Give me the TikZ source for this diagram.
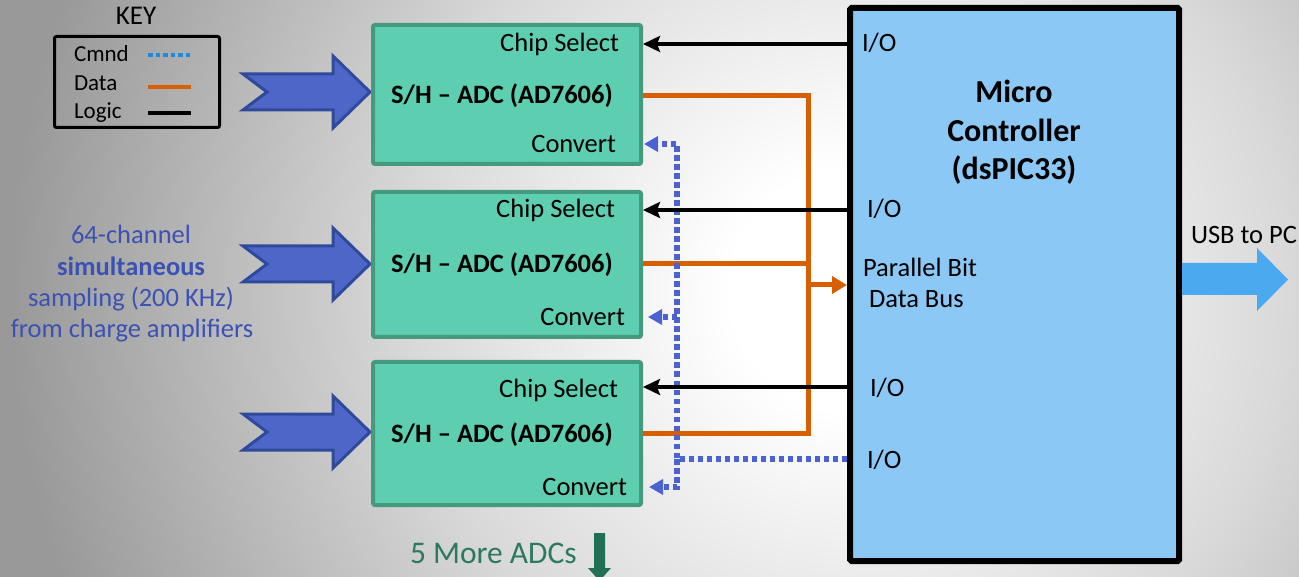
\documentclass[tikz,border=0pt]{standalone}
\usepackage{fontspec}
\setmainfont{Carlito}
\usetikzlibrary{arrows.meta}
\definecolor{adcfill}{HTML}{5DCFB0}
\definecolor{adcborder}{HTML}{459A7E}
\definecolor{mcufill}{HTML}{8BC8F5}
\definecolor{fatfill}{HTML}{4F66C9}
\definecolor{fatborder}{HTML}{2F4A9B}
\definecolor{dataor}{HTML}{D75F00}
\definecolor{cmndblue}{HTML}{4A63D0}
\definecolor{keyblue}{HTML}{1E88E5}
\definecolor{lefttext}{HTML}{3B52B4}
\definecolor{moregreen}{HTML}{2B7A5E}
\definecolor{arrgreen}{HTML}{1F7054}
\definecolor{usbblue}{HTML}{4BA9EF}
\definecolor{bgA}{gray}{0.85}
\definecolor{bgB}{gray}{0.6}
\pgfdeclareradialshading{bgshade}{\pgfpoint{0bp}{0bp}}{color(0bp)=(white); color(3bp)=(white); color(11bp)=(bgA); color(21bp)=(bgB); color(50bp)=(bgB)}
\begin{document}
\begin{tikzpicture}[x=1pt,y=-1pt,
  txt/.style={inner sep=0pt,outer sep=0pt},
  f26/.style={font=\fontsize{26.5}{31}\selectfont},
  f23/.style={font=\fontsize{23}{27}\selectfont},
  f27/.style={font=\fontsize{27}{32}\selectfont},
  f31/.style={font=\fontsize{31.5}{37}\selectfont},
  fb26/.style={font=\fontsize{26.5}{31}\selectfont\bfseries},
  fb32/.style={font=\fontsize{32}{38}\selectfont\bfseries},
  adc/.style={draw=adcborder,fill=adcfill,line width=4pt,rounded corners=2pt,minimum width=268pt,inner sep=0pt},
  mcu/.style={draw=black,fill=mcufill,line width=6pt,rounded corners=1.5pt,minimum width=329pt,minimum height=553pt,inner sep=0pt},
  keybox/.style={draw=black,line width=3pt,rounded corners=2pt,minimum width=165pt,minimum height=91pt,inner sep=0pt},
  logic/.style={draw=black,line width=4.5pt,-{Stealth[length=17pt,width=16pt,inset=3pt]}},
  data/.style={draw=dataor,line width=5pt,line join=miter},
  datatip/.style={-{Triangle[length=15pt,width=17pt]}},
  cmnd/.style={draw=cmndblue,line width=5.5pt,dash pattern=on 5.5pt off 3.5pt},
  cmndtip/.style={-{Triangle[length=14pt,width=15pt]}},
  fatarrow/.pic={\filldraw[fill=fatfill,draw=fatborder,line width=3pt,line join=miter]
     (0,-18) -- (90,-18) -- (90,-36) -- (127,0) -- (90,36) -- (90,18) -- (0,18) -- (24,0) -- cycle;}
]
% background
\begin{scope}
\clip (0,0) rectangle (1299,577);
\shade[shading=bgshade] (850,290) circle[radius=1000pt];
\end{scope}
\useasboundingbox (0,0) rectangle (1299,577);

% key
\node[txt,f27,anchor=base] (keytitle) at (136,25) {KEY};
\node[keybox] (key) at (137,82) {};
\node[txt,f23,anchor=base west] (kc) at (74,62) {Cmnd};
\node[txt,f23,anchor=base west] (kd) at (74,91) {Data};
\node[txt,f23,anchor=base west] (kl) at (74,119) {Logic};
\coordinate (kc1) at (148,55); \coordinate (kc2) at (191,55);
\coordinate (kd1) at (148,87); \coordinate (kd2) at (191,87);
\coordinate (kl1) at (148,113); \coordinate (kl2) at (191,113);
\draw[keyblue,line width=4pt,dash pattern=on 4.5pt off 3pt] (kc1) -- (kc2);
\draw[dataor,line width=4pt] (kd1) -- (kd2);
\draw[black,line width=4pt] (kl1) -- (kl2);

% left text
\node[txt,f26,lefttext,anchor=base] (l1) at (131,244) {64-channel};
\node[txt,fb26,lefttext,anchor=base] (l2) at (131,276) {simultaneous};
\node[txt,f26,lefttext,anchor=base] (l3) at (131,307) {sampling (200 KHz)};
\node[txt,f26,lefttext,anchor=base] (l4) at (132,338) {from charge amplifiers};

% fat input arrows
\pic at (243,92) {fatarrow};
\pic at (243,264) {fatarrow};
\pic at (243,432) {fatarrow};

% ADC boxes
\node[adc,minimum height=139pt] (B1) at (507,94.5) {};
\node[adc,minimum height=145pt] (B2) at (507,264.5) {};
\node[adc,minimum height=143pt] (B3) at (507,433.5) {};

\node[txt,f26,anchor=base east] (cs1) at (619,52) {Chip Select};
\node[txt,fb26,anchor=base] (sh1) at (502,104) {S/H \textendash{} ADC (AD7606)};
\node[txt,f26,anchor=base east] (cv1) at (616,153) {Convert};
\node[txt,f26,anchor=base east] (cs2) at (615,218) {Chip Select};
\node[txt,fb26,anchor=base] (sh2) at (502,273) {S/H \textendash{} ADC (AD7606)};
\node[txt,f26,anchor=base east] (cv2) at (625,326) {Convert};
\node[txt,f26,anchor=base east] (cs3) at (618,397) {Chip Select};
\node[txt,fb26,anchor=base] (sh3) at (502,442) {S/H \textendash{} ADC (AD7606)};
\node[txt,f26,anchor=base east] (cv3) at (627,495) {Convert};

% micro controller
\node[mcu] (mc) at (1014.5,284.5) {};
\node[txt,fb32,anchor=base] (m1) at (1014,103) {Micro};
\node[txt,fb32,anchor=base] (m2) at (1014,142) {Controller};
\node[txt,fb32,anchor=base] (m3) at (1014,180) {(dsPIC33)};
\node[txt,f26,anchor=base west] (io1) at (862,52) {I/O};
\node[txt,f26,anchor=base west] (io2) at (867,218) {I/O};
\node[txt,f26,anchor=base west] (io3) at (870,396) {I/O};
\node[txt,f26,anchor=base west] (io4) at (867,468) {I/O};
\node[txt,f26,anchor=base west] (pb1) at (863,277) {Parallel Bit};
\node[txt,f26,anchor=base west] (pb2) at (869,308) {Data Bus};

% y levels
\coordinate (yCS1) at (0,44);
\coordinate (yCS2) at (0,210);
\coordinate (yCS3) at (0,387);
\coordinate (yD1) at (0,96);
\coordinate (yD2) at (0,264);
\coordinate (yD3) at (0,433);
\coordinate (yBus) at (0,285);
\coordinate (yCV1) at (0,144);
\coordinate (yCV2) at (0,317);
\coordinate (yCV3) at (0,487);
\coordinate (yIO4) at (0,459);

% data bus
\coordinate (busT) at (808,96);
\coordinate (busB) at (808,433);
\coordinate (busM) at (808,264);
\coordinate (busO) at (806,285);
\draw[data] (B1.east |- yD1) -- (busT) -- (busB) -- (B3.east |- yD3);
\draw[data] (B2.east |- yD2) -- (busM);
\draw[data,datatip] (busO) -- (mc.west |- yBus);

% command lines
\coordinate (cmdC) at (677,459);
\coordinate (cmdT) at (677,144);
\coordinate (cmdB) at (677,487);
\coordinate (cmdM) at (677,317);
\draw[cmnd,cmndtip,shorten >=1pt] (mc.west |- yIO4) -- (cmdC) -- (cmdT) -- (B1.east |- yCV1);
\draw[cmnd,cmndtip,shorten >=6pt] (cmdC) -- (cmdB) -- (B3.east |- yCV3);
\draw[cmnd,cmndtip,shorten >=5pt] (cmdM) -- (B2.east |- yCV2);

% logic lines
\draw[logic] (mc.west |- yCS1) -- (B1.east |- yCS1);
\draw[logic] (mc.west |- yCS2) -- (B2.east |- yCS2);
\draw[logic] (mc.west |- yCS3) -- (B3.east |- yCS3);

% USB arrow
\fill[usbblue] (mc.east |- 0,263) -- (1257,263) -- (1257,248) -- (1288,279.5) -- (1257,311) -- (1257,295) -- (mc.east |- 0,295) -- cycle;
\node[txt,f26,anchor=base west] (usb) at (1191,244) {USB to PC};

% more ADCs
\node[txt,f31,moregreen,anchor=base west] (more) at (410,563) {5 More ADCs};
\fill[arrgreen] (594,533) -- (605,533) -- (605,568) -- (611,568) -- (599.5,581) -- (588,568) -- (594,568) -- cycle;
\end{tikzpicture}
\end{document}
